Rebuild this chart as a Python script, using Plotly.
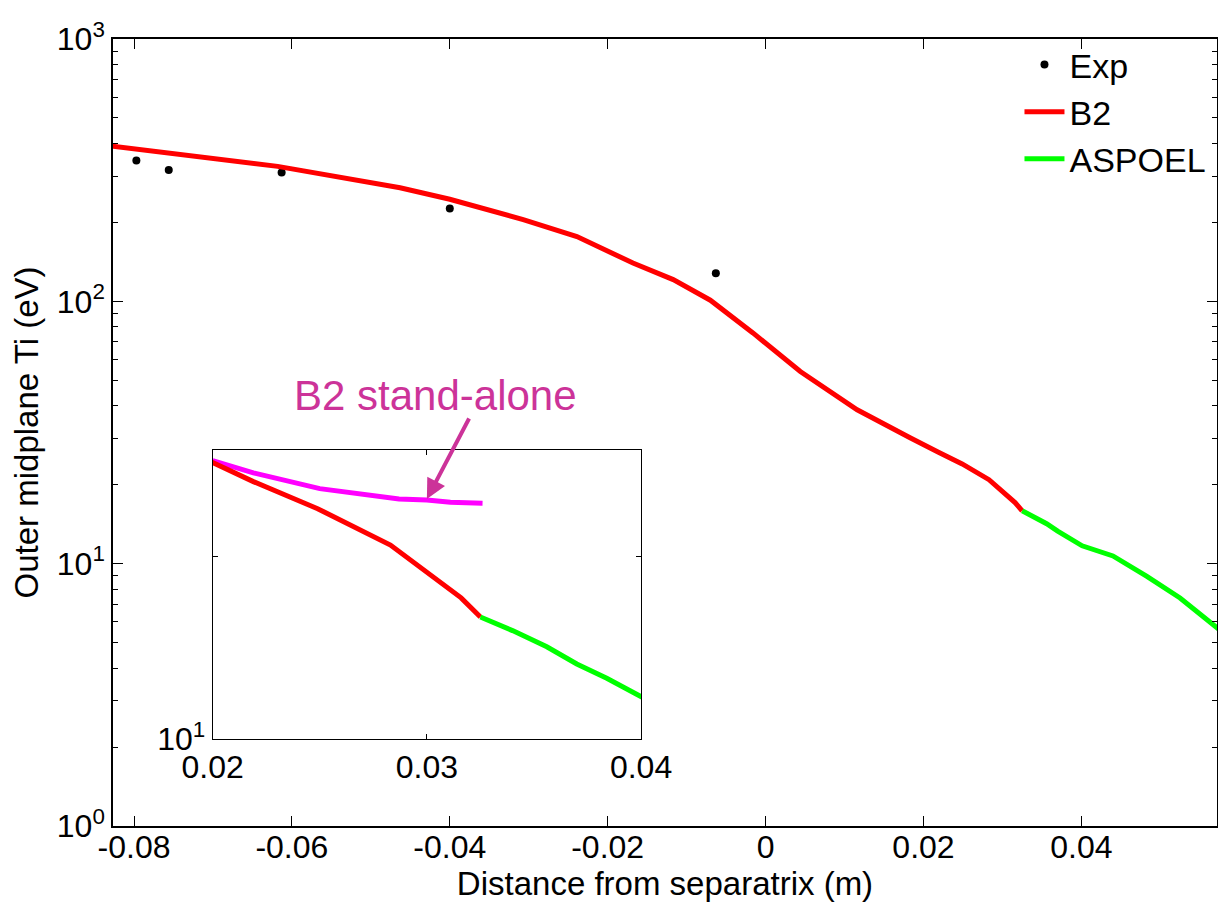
import plotly.graph_objects as go
import numpy as np

# ---- data ----
exp_x = [-0.0797, -0.0756, -0.0613, -0.0400, -0.0063]
exp_ti = [344, 317, 310, 226, 128]

b2_x = [-0.0827, -0.0618, -0.0463, -0.0400, -0.0307, -0.0239, -0.0168, -0.0117,
        -0.0070, -0.0016, 0.0044, 0.0116, 0.0183, 0.0200, 0.0219, 0.0249,
        0.0283, 0.0316, 0.0325]
b2_ti = [390, 327, 271, 245, 205, 176.5, 140, 121,
         101, 75.8, 54, 38.6, 30.2, 28.6, 26.6, 24.0,
         20.9, 17.1, 15.9]

aspoel_x = [0.0325, 0.0340, 0.0356, 0.0370, 0.0384, 0.0401, 0.0440, 0.0483, 0.0525, 0.0575]
aspoel_ti = [15.9, 15.1, 14.2, 13.3, 12.6, 11.7, 10.7, 8.95, 7.4, 5.6]

standalone_x = [0.0200, 0.0219, 0.0250, 0.0287, 0.0300, 0.0311, 0.0326]
standalone_ti = [28.8, 27.5, 25.9, 24.9, 24.8, 24.6, 24.5]

main_xticks = [-0.08, -0.06, -0.04, -0.02, 0, 0.02, 0.04]
main_xticklabels = ["-0.08", "-0.06", "-0.04", "-0.02", "0", "0.02", "0.04"]
main_yticks = [1, 10, 100, 1000]
main_yticklabels = ["10<sup>0</sup>", "10<sup>1</sup>", "10<sup>2</sup>", "10<sup>3</sup>"]
inset_xticks = [0.02, 0.03, 0.04]
inset_xticklabels = ["0.02", "0.03", "0.04"]

# arrow target on the stand-alone curve (inset data coordinates)
arrow_x = 0.0300
arrow_ti = 24.9

RED = "#FF0000"
GREEN = "#00FF00"
MAG = "#FF00FF"
ANN = "#CC3399"
FONT = "Arial, Liberation Sans, Helvetica, sans-serif"

fig = go.Figure()

# main axes
fig.add_trace(go.Scatter(x=exp_x, y=exp_ti, mode="markers", name="Exp",
                         marker=dict(color="black", size=8, symbol="circle")))
fig.add_trace(go.Scatter(x=b2_x, y=b2_ti, mode="lines", name="B2",
                         line=dict(color=RED, width=5)))
fig.add_trace(go.Scatter(x=aspoel_x, y=aspoel_ti, mode="lines", name="ASPOEL",
                         line=dict(color=GREEN, width=5)))

# inset
fig.add_trace(go.Scatter(x=standalone_x, y=standalone_ti, mode="lines", showlegend=False,
                         line=dict(color=MAG, width=5), xaxis="x2", yaxis="y2"))
fig.add_trace(go.Scatter(x=b2_x, y=b2_ti, mode="lines", showlegend=False,
                         line=dict(color=RED, width=5), xaxis="x2", yaxis="y2"))
fig.add_trace(go.Scatter(x=aspoel_x, y=aspoel_ti, mode="lines", showlegend=False,
                         line=dict(color=GREEN, width=5), xaxis="x2", yaxis="y2"))

minor_main = [m * 10 ** k for k in range(0, 3) for m in range(2, 10)]

fig.update_layout(
    width=1218, height=902,
    margin=dict(l=113, r=1, t=39, b=76, autoexpand=False),
    paper_bgcolor="white", plot_bgcolor="white",
    font=dict(family=FONT, size=32, color="black"),
    showlegend=True,
    legend=dict(x=0.995, y=1.004, xanchor="right", yanchor="top",
                bgcolor="rgba(0,0,0,0)", borderwidth=0,
                font=dict(size=34, family=FONT), itemwidth=40,
                tracegroupgap=0),
    xaxis=dict(domain=[0, 1], range=[-0.08266, 0.05718],
               tickvals=main_xticks, ticktext=main_xticklabels,
               ticks="inside", ticklen=10, tickwidth=1, tickcolor="black",
               showline=True, linecolor="black", linewidth=1.5, mirror="ticks",
               showgrid=False, zeroline=False, ticklabelstandoff=-8,
               title=dict(text="Distance from separatrix (m)", font=dict(size=33), standoff=6),
               tickfont=dict(size=32)),
    yaxis=dict(domain=[0, 1], type="log", range=[0, 3],
               tickvals=main_yticks, ticktext=main_yticklabels,
               ticks="inside", ticklen=10, tickwidth=1, tickcolor="black",
               minor=dict(tickvals=minor_main, ticks="inside", ticklen=5, tickcolor="black", showgrid=False),
               showline=True, linecolor="black", linewidth=1.5, mirror="ticks",
               showgrid=False, zeroline=False,
               title=dict(text="Outer midplane Ti (eV)", font=dict(size=33), standoff=8),
               tickfont=dict(size=32)),
    xaxis2=dict(domain=[0.0903, 0.4783], anchor="y2", range=[0.02, 0.04],
                tickvals=inset_xticks, ticktext=inset_xticklabels,
                ticks="inside", ticklen=5, tickwidth=1, tickcolor="black",
                showline=True, linecolor="black", linewidth=1, mirror="ticks",
                showgrid=False, zeroline=False, tickfont=dict(size=32)),
    yaxis2=dict(domain=[0.1105, 0.4778], anchor="x2", type="log", range=[1, float(np.log10(30))],
                tickvals=[10], ticktext=["10<sup>1</sup>"],
                ticks="inside", ticklen=5, tickwidth=1, tickcolor="black",
                minor=dict(tickvals=[20], ticks="inside", ticklen=5, tickcolor="black", showgrid=False),
                showline=True, linecolor="black", linewidth=1, mirror="ticks",
                showgrid=False, zeroline=False, tickfont=dict(size=32)),
)

fig.add_annotation(text="B2 stand-alone", xref="paper", yref="paper",
                   x=0.2917, y=0.5468, xanchor="center", yanchor="middle", showarrow=False,
                   font=dict(size=42, color=ANN, family=FONT))
fig.add_annotation(text="", xref="x2", yref="y2", x=arrow_x, y=float(np.log10(arrow_ti)),
                   ax=43, ay=-82, showarrow=True, arrowhead=2, arrowsize=1,
                   arrowwidth=4, arrowcolor=ANN)

fig.write_html("out.html")
